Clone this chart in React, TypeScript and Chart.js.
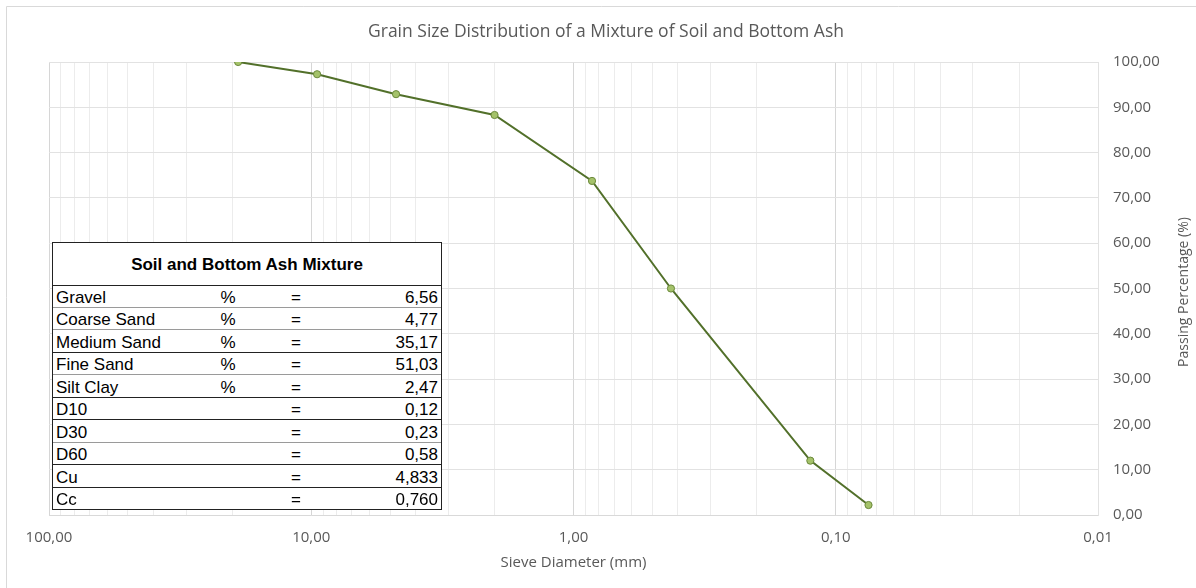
import React, { useEffect, useRef } from 'react';
import { Chart, registerables } from 'chart.js';

Chart.register(...registerables);

// ---- data ----
const sieveSizesMm = [19.0, 9.5, 4.75, 2.0, 0.85, 0.425, 0.125, 0.075];
const passingPercent = [100, 97.3, 92.9, 88.3, 73.75, 50.0, 12.0, 2.2];
const xDecadeExponents = [-2, -1, 0, 1];
const yTickValues = [0, 10, 20, 30, 40, 50, 60, 70, 80, 90, 100];
const chartTitle = 'Grain Size Distribution of a Mixture of Soil and Bottom Ash';
const xAxisTitle = 'Sieve Diameter (mm)';
const yAxisTitle = 'Passing Percentage (%)';
const tableTitle = 'Soil and Bottom Ash Mixture';
const tableLabels = ['Gravel', 'Coarse Sand', 'Medium Sand', 'Fine Sand', 'Silt Clay', 'D10', 'D30', 'D60', 'Cu', 'Cc'];
const tableUnits = ['%', '%', '%', '%', '%', '', '', '', '', ''];
const tableValues = ['6,56', '4,77', '35,17', '51,03', '2,47', '0,12', '0,23', '0,58', '4,833', '0,760'];

const FONT = "'Open Sans', sans-serif";
const TEXT = '#595959';

const fmt = (v: number) => v.toFixed(2).replace('.', ',');
const isDecade = (v: number) => {
  const l = Math.log10(v);
  return Math.abs(l - Math.round(l)) < 1e-6;
};

export default function App() {
  const canvasRef = useRef<HTMLCanvasElement | null>(null);

  useEffect(() => {
    document.body.style.margin = '0';
    const canvas = canvasRef.current;
    if (!canvas) return;

    const decorPlugin = {
      id: 'decor',
      beforeDraw(chart: any) {
        const ctx = chart.ctx;
        ctx.save();
        ctx.strokeStyle = '#d9d9d9';
        ctx.lineWidth = 1;
        ctx.beginPath();
        ctx.moveTo(6.5, 588);
        ctx.lineTo(6.5, 6.5);
        ctx.lineTo(1196, 6.5);
        ctx.stroke();
        ctx.restore();
      },
      afterDraw(chart: any) {
        const ctx = chart.ctx;
        ctx.save();
        ctx.fillStyle = TEXT;
        ctx.textAlign = 'center';
        ctx.textBaseline = 'middle';
        ctx.font = `17.5px ${FONT}`;
        ctx.fillText(chartTitle, 606, 32);
        ctx.translate(1184, 292);
        ctx.rotate(-Math.PI / 2);
        ctx.font = `14px ${FONT}`;
        ctx.fillText(yAxisTitle, 0, 0);
        ctx.restore();
      },
    };

    const chart = new Chart(canvas, {
      type: 'line',
      data: {
        datasets: [
          {
            data: sieveSizesMm.map((x, i) => ({ x, y: passingPercent[i] })),
            borderColor: '#52702a',
            borderWidth: 2,
            pointRadius: 3.6,
            pointBorderWidth: 1,
            pointBackgroundColor: '#a4c26a',
            pointBorderColor: '#6a883a',
            tension: 0,
            fill: false,
          },
        ],
      },
      options: {
        responsive: false,
        animation: false,
        devicePixelRatio: 1,
        layout: { padding: { left: 49, top: 62, right: 0, bottom: 0 } },
        plugins: {
          legend: { display: false },
          tooltip: { enabled: false },
          title: { display: false },
        },
        scales: {
          x: {
            type: 'logarithmic',
            reverse: true,
            min: 0.01,
            max: 100,
            afterBuildTicks(scale: any) {
              const t: any[] = [];
              xDecadeExponents.forEach((e) => {
                for (let m = 1; m <= 9; m++) t.push({ value: +(m * Math.pow(10, e)).toPrecision(3) });
              });
              t.push({ value: 100 });
              scale.ticks = t;
            },
            afterFit(scale: any) {
              scale.height = 73;
            },
            ticks: {
              autoSkip: false,
              maxRotation: 0,
              padding: 14,
              color: TEXT,
              font: { family: FONT, size: 15 },
              callback: (v: any) => (isDecade(Number(v)) ? fmt(Number(v)) : ''),
            },
            grid: {
              drawTicks: false,
              color: (ctx: any) => (ctx.tick && isDecade(ctx.tick.value) ? '#d6d6d6' : '#ececec'),
              lineWidth: 1,
            },
            border: { display: true, color: '#d9d9d9' },
            title: {
              display: true,
              text: xAxisTitle,
              color: TEXT,
              font: { family: FONT, size: 15 },
              padding: { top: 0, bottom: 16 },
            },
          },
          y: {
            type: 'linear',
            position: 'right',
            min: 0,
            max: 100,
            afterBuildTicks(scale: any) {
              scale.ticks = yTickValues.map((value) => ({ value }));
            },
            afterFit(scale: any) {
              scale.width = 98;
            },
            ticks: {
              padding: 15,
              color: TEXT,
              font: { family: FONT, size: 15 },
              callback: (v: any) => fmt(Number(v)),
            },
            grid: { drawTicks: false, color: '#e2e2e2', lineWidth: 1 },
            border: { display: true, color: '#e2e2e2' },
          },
        },
      },
      plugins: [decorPlugin],
    } as any);

    return () => chart.destroy();
  }, []);

  const rowTops = [285, 307.5, 330, 352.5, 375, 397.5, 420, 442.5, 465, 487.5];
  const rowH = 22.5;
  const rowBorders = ['#9a9a9a', '#9a9a9a', '#222', '#9a9a9a', '#222', '#222', '#9a9a9a', '#222', '#222', '#222'];
  const tableLeft = 52;
  const tableWidth = 390;

  return (
    <div style={{ position: 'relative', width: 1196, height: 588 }}>
      <canvas ref={canvasRef} width={1196} height={588} style={{ display: 'block' }} />
      <div
        style={{
          position: 'absolute',
          left: tableLeft,
          top: 242,
          width: tableWidth,
          height: 510 - 242,
          background: '#fff',
          border: '1.5px solid #222',
          boxSizing: 'border-box',
          fontFamily: "'Liberation Sans', Arial, sans-serif",
          fontSize: 17,
          color: '#000',
        }}
      >
        <div
          style={{
            position: 'absolute',
            left: 0,
            right: 0,
            top: 0,
            height: 43,
            lineHeight: '43px',
            textAlign: 'center',
            fontWeight: 'bold',
            borderBottom: '1px solid #222',
            boxSizing: 'border-box',
          }}
        >
          {tableTitle}
        </div>
        {tableLabels.map((label, i) => (
          <div
            key={label}
            style={{
              position: 'absolute',
              left: 0,
              right: 0,
              top: rowTops[i] - 243,
              height: rowH,
              lineHeight: `${rowH}px`,
              borderBottom: i < tableLabels.length - 1 ? `1px solid ${rowBorders[i]}` : 'none',
              boxSizing: 'border-box',
              whiteSpace: 'nowrap',
            }}
          >
            <span style={{ position: 'absolute', left: 3, top: 1.5 }}>{label}</span>
            <span style={{ position: 'absolute', left: 165, width: 20, textAlign: 'center', top: 1.5 }}>{tableUnits[i]}</span>
            <span style={{ position: 'absolute', left: 233, width: 20, textAlign: 'center', top: 1.5 }}>=</span>
            <span style={{ position: 'absolute', right: 3, top: 1.5 }}>{tableValues[i]}</span>
          </div>
        ))}
      </div>
    </div>
  );
}
